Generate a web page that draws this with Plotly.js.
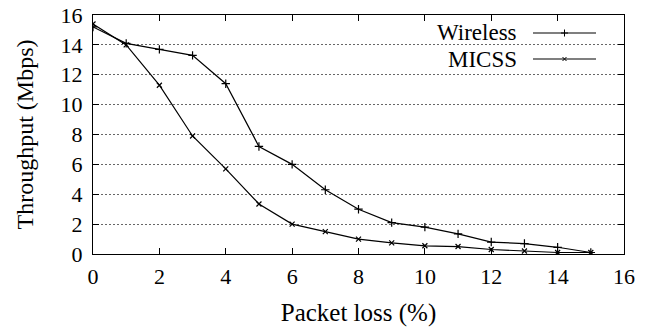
<!DOCTYPE html>
<html>
<head>
<meta charset="utf-8">
<script src="https://cdn.plot.ly/plotly-3.0.1.min.js"></script>
<style>html,body{margin:0;padding:0;background:#fff;}#chart{width:650px;height:330px;}</style>
</head>
<body>
<div id="chart"></div>
<script>
const packetLoss = [0, 1, 2, 3, 4, 5, 6, 7, 8, 9, 10, 11, 12, 13, 14, 15];
const wireless = [15.2, 14.1, 13.7, 13.3, 11.4, 7.2, 6.0, 4.3, 3.0, 2.1, 1.8, 1.35, 0.8, 0.7, 0.45, 0.1];
const micss = [15.4, 14.0, 11.3, 7.9, 5.7, 3.35, 2.0, 1.5, 1.0, 0.75, 0.55, 0.5, 0.3, 0.2, 0.1, 0.1];
const seriesNames = ["Wireless", "MICSS"];
const tickVals = [0, 2, 4, 6, 8, 10, 12, 14, 16];

const fam = "Liberation Serif";
const tickFont = {family: fam, size: 22, color: "#000000"};
const legendFont = {family: fam, size: 23, color: "#000000"};
const yTitleFont = {family: fam, size: 24, color: "#000000"};
const xTitleFont = {family: fam, size: 25, color: "#000000"};
const symbols = ["cross-thin", "x-thin"];

const traces = [
  {x: packetLoss, y: wireless, name: seriesNames[0], mode: "lines+markers",
   line: {color: "#000", width: 1.2},
   marker: {symbol: symbols[0], size: 6, line: {color: "#000", width: 1.2}}},
  {x: packetLoss, y: micss, name: seriesNames[1], mode: "lines+markers",
   line: {color: "#000", width: 1.2},
   marker: {symbol: symbols[1], size: 5, line: {color: "#000", width: 1.2}}},
  {x: [0.5], y: [0.5], xaxis: "x2", yaxis: "y2", mode: "markers", hoverinfo: "skip",
   marker: {symbol: symbols[0], size: 5, line: {color: "#000", width: 1}}},
  {x: [0.5], y: [0.3], xaxis: "x2", yaxis: "y2", mode: "markers", hoverinfo: "skip",
   marker: {symbol: symbols[1], size: 4, line: {color: "#000", width: 1}}}
];

const plotW = 531, plotH = 239;
const lx0 = (533 - 93) / plotW, lx1 = (596 - 93) / plotW;
const row1 = (254 - 33) / plotH, row2 = (254 - 59) / plotH;

const layout = {
  width: 650, height: 330,
  margin: {l: 93, r: 26, t: 15, b: 76},
  paper_bgcolor: "#fff", plot_bgcolor: "#fff",
  font: tickFont,
  showlegend: false,
  xaxis: {
    range: [0, 16], tickvals: tickVals, ticks: "inside", ticklen: 6, tickcolor: "#000",
    showline: true, linecolor: "#000", linewidth: 1, mirror: "ticks",
    showgrid: false, zeroline: false, tickfont: tickFont, ticklabelstandoff: 3,
    title: {text: "Packet loss (%)", font: xTitleFont, standoff: 15}
  },
  yaxis: {
    range: [0, 16], tickvals: tickVals, ticks: "inside", ticklen: 6, tickcolor: "#000",
    showline: true, linecolor: "#000", linewidth: 1, mirror: "ticks",
    showgrid: true, gridcolor: "#666", griddash: "2px,2px", gridwidth: 1,
    zeroline: false, tickfont: tickFont, ticklabelstandoff: 5,
    title: {text: "Throughput (Mbps)", font: yTitleFont, standoff: 20}
  },
  xaxis2: {overlaying: "x", range: [0, 1], visible: false, fixedrange: true},
  yaxis2: {overlaying: "y", range: [0, 1], visible: false, fixedrange: true},
  shapes: [
    {type: "rect", xref: "paper", yref: "paper", x0: (403 - 93) / plotW, x1: (612 - 93) / plotW,
     y0: (254 - 68) / plotH, y1: (254 - 20) / plotH, fillcolor: "#fff", line: {width: 0}, layer: "below"},
    {type: "line", xref: "paper", yref: "paper", x0: lx0, x1: lx1, y0: row1, y1: row1, line: {color: "#000", width: 1.2}},
    {type: "line", xref: "paper", yref: "paper", x0: lx0, x1: lx1, y0: row2, y1: row2, line: {color: "#000", width: 1.2}}
  ],
  annotations: [
    {xref: "paper", yref: "paper", x: (519 - 93) / plotW, y: row1, xanchor: "right", yanchor: "middle",
     text: seriesNames[0], showarrow: false, font: legendFont},
    {xref: "paper", yref: "paper", x: (519 - 93) / plotW, y: row2, xanchor: "right", yanchor: "middle",
     text: seriesNames[1], showarrow: false, font: legendFont}
  ]
};

traces[2].x = [(lx0 + lx1) / 2]; traces[2].y = [row1];
traces[3].x = [(lx0 + lx1) / 2]; traces[3].y = [row2];

Plotly.newPlot("chart", traces, layout, {staticPlot: true, displayModeBar: false});
</script>
</body>
</html>
